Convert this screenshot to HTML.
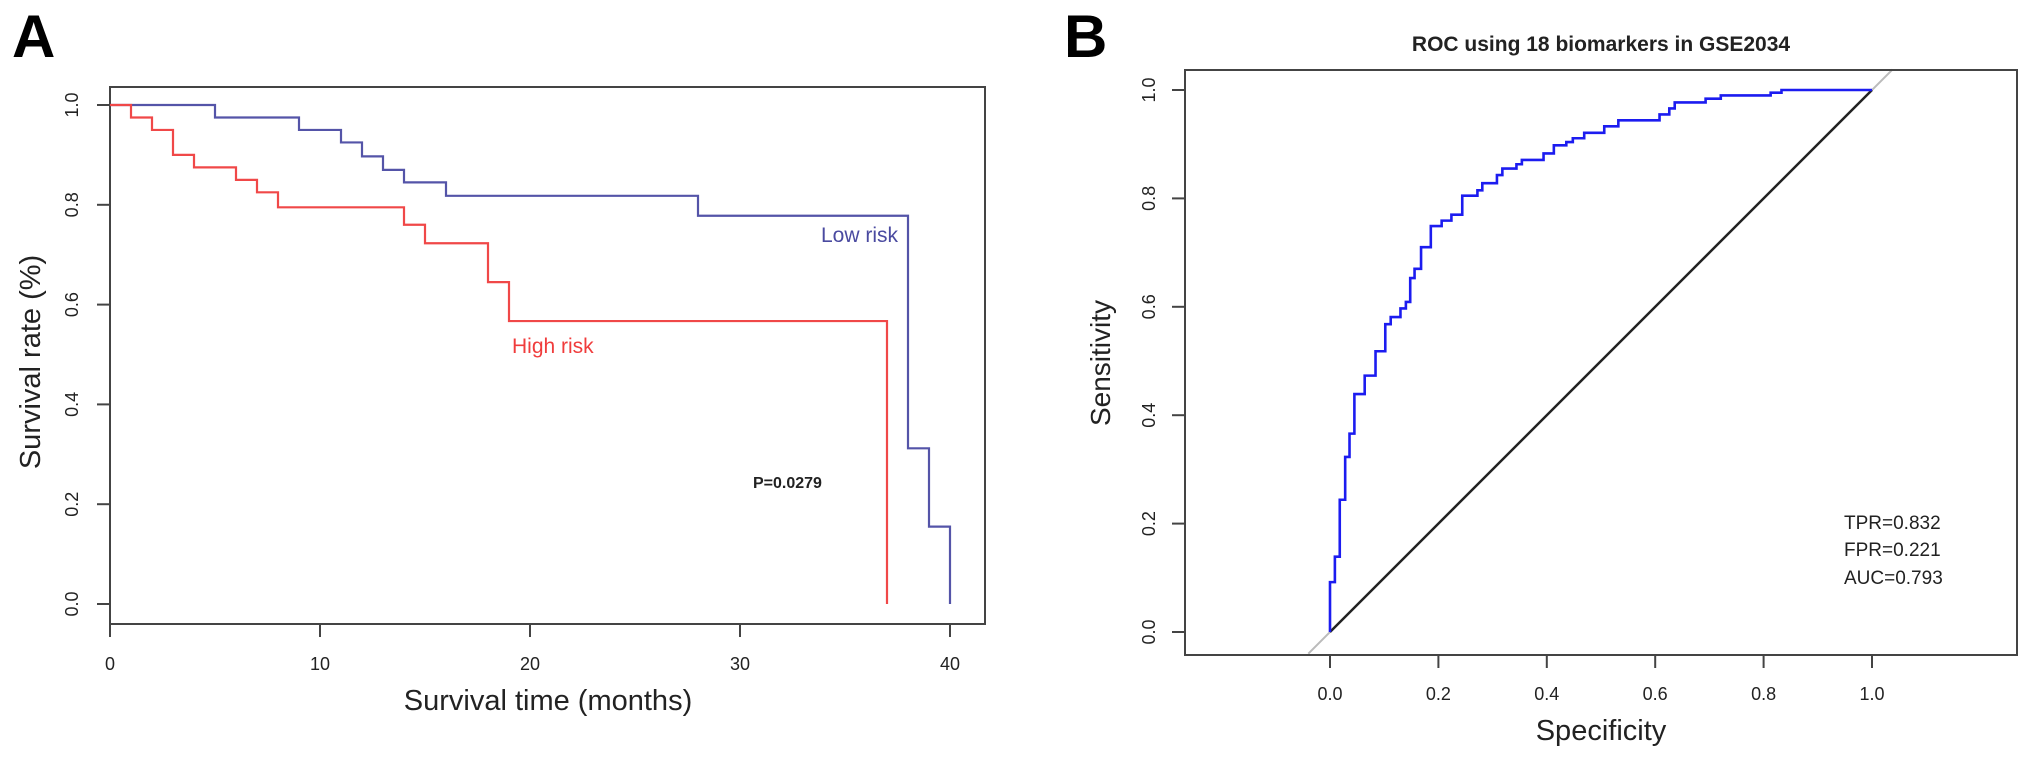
<!DOCTYPE html>
<html><head><meta charset="utf-8"><style>
html,body{margin:0;padding:0;background:#fff;}
svg{display:block;font-family:"Liberation Sans",Arial,sans-serif;}
</style></head><body>
<svg id="fig" width="2031" height="761" viewBox="0 0 2031 761" xmlns="http://www.w3.org/2000/svg">
<text x="12" y="57" font-size="60" font-weight="bold">A</text>
<text x="1064" y="57" font-size="60" font-weight="bold">B</text>
<g id="pa"></g>
<g id="pb"></g>
</svg>
<script>
// ---- Panel A data ----
const lowTimes = [0,5,9,11,12,13,14,16,28,38,39,40];
const lowSurv  = [1.0,0.975,0.95,0.925,0.897,0.87,0.845,0.818,0.778,0.312,0.155,0.0];
const highTimes = [0,1,2,3,4,6,7,8,14,15,18,19,37];
const highSurv  = [1.0,0.975,0.95,0.9,0.875,0.85,0.825,0.795,0.76,0.723,0.645,0.567,0.0];
const aXTicks = [0,10,20,30,40];
const aYTicks = [0.0,0.2,0.4,0.6,0.8,1.0];
// ---- Panel B data ----
const rocFpr = [0,0.009,0.018,0.028,0.036,0.045,0.064,0.084,0.102,0.112,0.130,0.140,0.148,0.156,0.168,0.186,0.206,0.224,0.244,0.272,0.281,0.308,0.318,0.344,0.354,0.394,0.413,0.436,0.448,0.469,0.506,0.532,0.608,0.626,0.636,0.693,0.721,0.813,0.833,1.0];
const rocTpr = [0.092,0.139,0.244,0.323,0.366,0.439,0.473,0.518,0.568,0.581,0.597,0.609,0.653,0.670,0.710,0.749,0.759,0.770,0.805,0.815,0.828,0.843,0.855,0.863,0.871,0.883,0.898,0.904,0.911,0.921,0.933,0.944,0.955,0.966,0.977,0.984,0.990,0.995,1.0,1.0];
const bTicks = [0.0,0.2,0.4,0.6,0.8,1.0];

const NS="http://www.w3.org/2000/svg";
function mk(parent,tag,attrs,text){const e=document.createElementNS(NS,tag);for(const k in attrs)e.setAttribute(k,attrs[k]);if(text!==undefined)e.textContent=text;parent.appendChild(e);return e;}

// Panel A
const pa=document.getElementById('pa');
const ax=t=>110+t*21, ay=v=>604-v*499;
let e;
e=mk(pa,'rect',{x:110,y:87,width:875,height:537,fill:'none',stroke:'#444','stroke-width':2});


aXTicks.forEach(t=>{
  e=mk(pa,'line',{x1:ax(t),x2:ax(t),y1:624,y2:637,stroke:'#444','stroke-width':2});
  
  
  e=mk(pa,'text',{x:ax(t),y:670,'font-size':18,'text-anchor':'middle',fill:'#222'},String(t));
  
  
});
aYTicks.forEach(v=>{
  e=mk(pa,'line',{x1:97,x2:110,y1:ay(v),y2:ay(v),stroke:'#444','stroke-width':2});
  
  
  e=mk(pa,'text',{x:0,y:0,'font-size':18,'text-anchor':'middle',fill:'#222',transform:`translate(78,${ay(v)}) rotate(-90)`},v.toFixed(1));
  
  
});
function stepPath(ts,vs,fx,fy){let d=`M${fx(ts[0])},${fy(vs[0])}`;for(let i=1;i<ts.length;i++){d+=` H${fx(ts[i])} V${fy(vs[i])}`;}return d;}
e=mk(pa,'path',{d:stepPath(lowTimes,lowSurv,ax,ay),fill:'none',stroke:'#5454a8','stroke-width':2.2});


e=mk(pa,'path',{d:stepPath(highTimes,highSurv,ax,ay),fill:'none',stroke:'#f04848','stroke-width':2.2});


e=mk(pa,'text',{x:821,y:242,'font-size':21,fill:'#4a4aa0'},'Low risk');


e=mk(pa,'text',{x:512,y:353,'font-size':21,fill:'#f03c3c'},'High risk');


e=mk(pa,'text',{x:753,y:488,'font-size':16,'font-weight':'bold',fill:'#222'},'P=0.0279');


e=mk(pa,'text',{x:548,y:710,'font-size':29,'text-anchor':'middle',fill:'#222'},'Survival time (months)');


e=mk(pa,'text',{x:0,y:0,'font-size':29,'text-anchor':'middle',fill:'#222',transform:'translate(40,362) rotate(-90)'},'Survival rate (%)');



// Panel B
const pb=document.getElementById('pb');
const bx=v=>1330+v*542, by=v=>632-v*542;
e=mk(pb,'text',{x:1601,y:51,'font-size':21,'font-weight':'bold','text-anchor':'middle',fill:'#222'},'ROC using 18 biomarkers in GSE2034');


e=mk(pb,'line',{x1:bx(-0.04),y1:by(-0.04),x2:bx(1.038),y2:by(1.038),stroke:'#bbb','stroke-width':2});


e=mk(pb,'line',{x1:bx(0),y1:by(0),x2:bx(1),y2:by(1),stroke:'#222','stroke-width':2.5});


let d=`M${bx(0)},${by(0)}`;
for(let i=0;i<rocFpr.length;i++){d+=` H${bx(rocFpr[i])} V${by(rocTpr[i])}`;}
e=mk(pb,'path',{d:d,fill:'none',stroke:'#1c1cf0','stroke-width':2.6});


e=mk(pb,'rect',{x:1185,y:70,width:832,height:585,fill:'none',stroke:'#444','stroke-width':2});


bTicks.forEach(v=>{
  e=mk(pb,'line',{x1:bx(v),x2:bx(v),y1:655,y2:668,stroke:'#444','stroke-width':2});
  
  
  e=mk(pb,'text',{x:bx(v),y:700,'font-size':18,'text-anchor':'middle',fill:'#222'},v.toFixed(1));
  
  
  e=mk(pb,'line',{x1:1172,x2:1185,y1:by(v),y2:by(v),stroke:'#444','stroke-width':2});
  
  
  e=mk(pb,'text',{x:0,y:0,'font-size':18,'text-anchor':'middle',fill:'#222',transform:`translate(1155,${by(v)}) rotate(-90)`},v.toFixed(1));
  
  
});
e=mk(pb,'text',{x:1601,y:740,'font-size':29,'text-anchor':'middle',fill:'#222'},'Specificity');


e=mk(pb,'text',{x:0,y:0,'font-size':28,'text-anchor':'middle',fill:'#222',transform:'translate(1110,363) rotate(-90)'},'Sensitivity');


[['TPR=0.832',529],['FPR=0.221',556],['AUC=0.793',584]].forEach(s=>{
  e=mk(pb,'text',{x:1844,y:s[1],'font-size':19,fill:'#222'},s[0]);
  
  
});
</script>
</body></html>
